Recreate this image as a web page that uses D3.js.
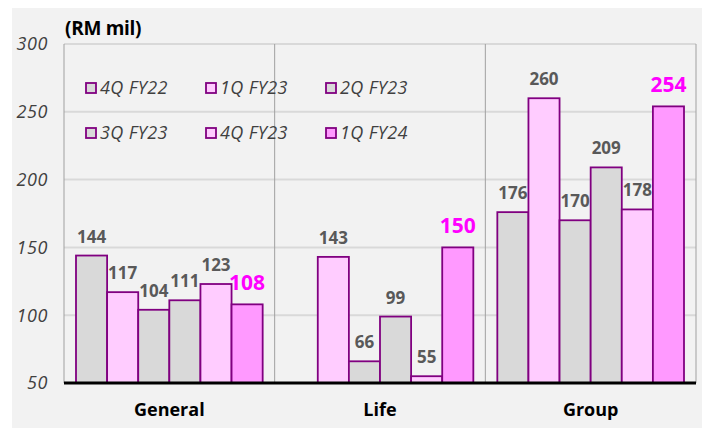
<!DOCTYPE html>
<html>
<head>
<meta charset="UTF-8">
<title>RM mil by quarter</title>
<style>
html, body { margin:0; padding:0; background:#fff; }
text { font-family: "Open Sans", sans-serif; }
.tick { font-style: italic; font-size: 18px; letter-spacing: 0.6px; fill: #404040; }
.lbl { font-weight: bold; font-size: 17px; fill: #595959; }
.lbl.hi { fill: #ff00ff; font-size: 21px; }
.leg { font-style: italic; font-size: 18px; letter-spacing: 0.4px; fill: #404040; }
.cat { font-weight: bold; font-size: 18px; fill: #000; }
</style>
<script src="https://cdnjs.cloudflare.com/ajax/libs/d3/7.8.5/d3.min.js"></script>
</head>
<body>
<script>
const categories = ['General', 'Life', 'Group'];
const quarters = ['4Q FY22', '1Q FY23', '2Q FY23', '3Q FY23', '4Q FY23', '1Q FY24'];
const general = [144, 117, 104, 111, 123, 108];
const life = [null, 143, 66, 99, 55, 150];
const group = [176, 260, 170, 209, 178, 254];
const yTicks = [50, 100, 150, 200, 250, 300];
const fills = ['#d9d9d9', '#ffccff', '#d9d9d9', '#d9d9d9', '#ffccff', '#ff99ff'];

const values = {General: general, Life: life, Group: group};
const W = 707, H = 428;
const m = {l: 64, r: 696, t: 44, b: 383};

const svg = d3.select('body').append('svg').attr('width', W).attr('height', H);
svg.append('rect').attr('x', 12).attr('y', 8).attr('width', 690).attr('height', 420).attr('fill', '#f2f2f2');

const y = d3.scaleLinear().domain([50, 300]).range([m.b, m.t]);
const x0 = d3.scaleBand().domain(categories).range([m.l, m.r]);
const x1 = d3.scaleBand().domain(quarters).range([12, x0.bandwidth() - 12]);

// gridlines
svg.append('g').selectAll('line').data(yTicks.slice(1)).join('line')
	.attr('x1', m.l).attr('x2', m.r)
	.attr('y1', d => y(d)).attr('y2', d => y(d))
	.attr('stroke', '#d9d9d9').attr('stroke-width', 2);

// dividers
const divs = categories.map(c => x0(c)).concat([m.r]);
svg.append('g').selectAll('line').data(divs).join('line')
	.attr('x1', d => d).attr('x2', d => d)
	.attr('y1', m.t).attr('y2', m.b)
	.attr('stroke', '#a0a0a0').attr('stroke-width', 1);

// y tick labels
svg.append('g').selectAll('text').data(yTicks).join('text')
	.attr('class', 'tick')
	.attr('x', 48).attr('y', d => y(d)).attr('dy', '0.35em')
	.attr('text-anchor', 'end')
	.text(d => d);

svg.append('text').attr('x', 65).attr('y', 35)
	.style('font-weight', 'bold').style('font-size', '19px').style('letter-spacing', '-0.3px').attr('fill', '#000')
	.text('(RM mil)');

// bars
const data = categories.flatMap(c => values[c].map((v, i) => ({c, q: quarters[i], i, v}))).filter(d => d.v != null);
const g = svg.append('g');
g.selectAll('rect').data(data).join('rect')
	.attr('x', d => x0(d.c) + x1(d.q))
	.attr('y', d => y(d.v))
	.attr('width', x1.bandwidth())
	.attr('height', d => y(50) - y(d.v))
	.attr('fill', d => fills[d.i])
	.attr('stroke', '#800080').attr('stroke-width', 1.8);

g.selectAll('text').data(data).join('text')
	.attr('class', d => d.i === 5 ? 'lbl hi' : 'lbl')
	.attr('x', d => x0(d.c) + x1(d.q) + x1.bandwidth() / 2)
	.attr('y', d => y(d.v) - (d.i === 5 ? 14 : 13))
	.attr('text-anchor', 'middle')
	.text(d => d.v);

// baseline
svg.append('line').attr('x1', m.l).attr('x2', m.r).attr('y1', y(50)).attr('y2', y(50))
	.attr('stroke', '#000').attr('stroke-width', 3);

// category labels
svg.append('g').selectAll('text').data(categories).join('text')
	.attr('class', 'cat')
	.attr('x', d => x0(d) + x0.bandwidth() / 2).attr('y', 416)
	.attr('text-anchor', 'middle')
	.text(d => d);

// legend
const leg = svg.append('g').selectAll('g').data(quarters).join('g')
	.attr('transform', (d, i) => `translate(${86 + (i % 3) * 120},${88 + Math.floor(i / 3) * 45})`);
leg.append('rect').attr('x', 0).attr('y', -5).attr('width', 10).attr('height', 10)
	.attr('fill', (d, i) => fills[i]).attr('stroke', '#800080').attr('stroke-width', 1.8);
leg.append('text').attr('class', 'leg').attr('x', 14).attr('dy', '0.35em').text(d => d);
</script>
</body>
</html>
